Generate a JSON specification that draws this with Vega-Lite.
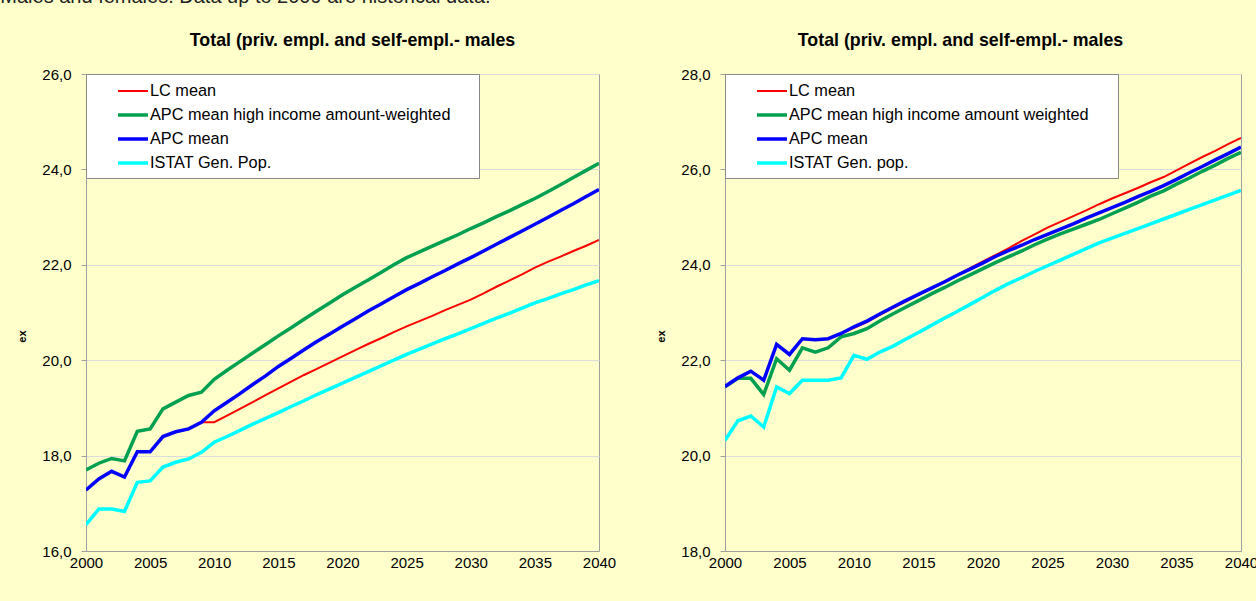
{
  "$schema": "https://vega.github.io/schema/vega-lite/v6.json",
  "background": "#FFFFCC",
  "padding": {"left": 0, "top": -14, "right": -3, "bottom": 34},
  "title": {"text": "Males and females. Data up to 2009 are historical data.", "anchor": "start", "frame": "bounds", "fontSize": 20, "fontWeight": "normal", "font": "Liberation Sans", "color": "#222222", "dx": -16, "offset": 25},
  "spacing": 38,
  "config": {
    "locale": {"number": {"decimal": ",", "thousands": ".", "grouping": [3], "currency": ["", " €"]}},
    "view": {"stroke": "#A0A0A0", "fill": "#FFFFCC"},
    "axis": {"labelFont": "Liberation Sans", "labelFontSize": 15, "labelColor": "#000000", "domainColor": "#A0A0A0", "tickColor": "#A0A0A0", "gridColor": "#DCDCDC", "titleFont": "Liberation Sans", "titleFontSize": 11, "titleFontWeight": "bold", "titleColor": "#000000"},
    "axisX": {"grid": false, "ticks": false, "labelPadding": 4, "labelFlush": false, "labelOverlap": false},
    "axisY": {"grid": true, "tickSize": 5, "labelPadding": 10, "titlePadding": 14, "labelFlush": false, "titleY": 262},
    "legend": {"orient": "top-left", "offset": 0, "fillColor": "#FFFFFF", "strokeColor": "#888888", "padding": 6, "symbolType": "M-1.5,0H1.5", "symbolSize": 400, "symbolOffset": 29, "symbolStrokeWidth": 3, "labelFontSize": 16.3, "labelFont": "Liberation Sans", "labelColor": "#000000", "labelOffset": 5, "rowPadding": 3, "labelLimit": 500, "titleOrient": "right", "titlePadding": 23},
    "title": {"font": "Liberation Sans", "fontSize": 17.8, "fontWeight": "bold", "color": "#000000", "anchor": "start", "offset": 17}
  },
  "datasets": {
    "left": [
      {"year": 2000, "series": "LC mean", "ex": 17.28}, {"year": 2001, "series": "LC mean", "ex": 17.51}, {"year": 2002, "series": "LC mean", "ex": 17.67}, {"year": 2003, "series": "LC mean", "ex": 17.55}, {"year": 2004, "series": "LC mean", "ex": 18.08}, {"year": 2005, "series": "LC mean", "ex": 18.08}, {"year": 2006, "series": "LC mean", "ex": 18.40}, {"year": 2007, "series": "LC mean", "ex": 18.50}, {"year": 2008, "series": "LC mean", "ex": 18.56}, {"year": 2009, "series": "LC mean", "ex": 18.70}, {"year": 2010, "series": "LC mean", "ex": 18.70}, {"year": 2011, "series": "LC mean", "ex": 18.84}, {"year": 2012, "series": "LC mean", "ex": 18.98}, {"year": 2013, "series": "LC mean", "ex": 19.12}, {"year": 2014, "series": "LC mean", "ex": 19.27}, {"year": 2015, "series": "LC mean", "ex": 19.41}, {"year": 2016, "series": "LC mean", "ex": 19.55}, {"year": 2017, "series": "LC mean", "ex": 19.69}, {"year": 2018, "series": "LC mean", "ex": 19.82}, {"year": 2019, "series": "LC mean", "ex": 19.95}, {"year": 2020, "series": "LC mean", "ex": 20.08}, {"year": 2021, "series": "LC mean", "ex": 20.21}, {"year": 2022, "series": "LC mean", "ex": 20.34}, {"year": 2023, "series": "LC mean", "ex": 20.46}, {"year": 2024, "series": "LC mean", "ex": 20.59}, {"year": 2025, "series": "LC mean", "ex": 20.71}, {"year": 2026, "series": "LC mean", "ex": 20.82}, {"year": 2027, "series": "LC mean", "ex": 20.93}, {"year": 2028, "series": "LC mean", "ex": 21.05}, {"year": 2029, "series": "LC mean", "ex": 21.16}, {"year": 2030, "series": "LC mean", "ex": 21.27}, {"year": 2031, "series": "LC mean", "ex": 21.40}, {"year": 2032, "series": "LC mean", "ex": 21.54}, {"year": 2033, "series": "LC mean", "ex": 21.67}, {"year": 2034, "series": "LC mean", "ex": 21.80}, {"year": 2035, "series": "LC mean", "ex": 21.94}, {"year": 2036, "series": "LC mean", "ex": 22.06}, {"year": 2037, "series": "LC mean", "ex": 22.17}, {"year": 2038, "series": "LC mean", "ex": 22.29}, {"year": 2039, "series": "LC mean", "ex": 22.40}, {"year": 2040, "series": "LC mean", "ex": 22.52},
      {"year": 2000, "series": "APC mean high income amount-weighted", "ex": 17.70}, {"year": 2001, "series": "APC mean high income amount-weighted", "ex": 17.84}, {"year": 2002, "series": "APC mean high income amount-weighted", "ex": 17.94}, {"year": 2003, "series": "APC mean high income amount-weighted", "ex": 17.89}, {"year": 2004, "series": "APC mean high income amount-weighted", "ex": 18.51}, {"year": 2005, "series": "APC mean high income amount-weighted", "ex": 18.56}, {"year": 2006, "series": "APC mean high income amount-weighted", "ex": 18.98}, {"year": 2007, "series": "APC mean high income amount-weighted", "ex": 19.12}, {"year": 2008, "series": "APC mean high income amount-weighted", "ex": 19.26}, {"year": 2009, "series": "APC mean high income amount-weighted", "ex": 19.33}, {"year": 2010, "series": "APC mean high income amount-weighted", "ex": 19.60}, {"year": 2011, "series": "APC mean high income amount-weighted", "ex": 19.79}, {"year": 2012, "series": "APC mean high income amount-weighted", "ex": 19.97}, {"year": 2013, "series": "APC mean high income amount-weighted", "ex": 20.15}, {"year": 2014, "series": "APC mean high income amount-weighted", "ex": 20.33}, {"year": 2015, "series": "APC mean high income amount-weighted", "ex": 20.51}, {"year": 2016, "series": "APC mean high income amount-weighted", "ex": 20.68}, {"year": 2017, "series": "APC mean high income amount-weighted", "ex": 20.86}, {"year": 2018, "series": "APC mean high income amount-weighted", "ex": 21.03}, {"year": 2019, "series": "APC mean high income amount-weighted", "ex": 21.20}, {"year": 2020, "series": "APC mean high income amount-weighted", "ex": 21.37}, {"year": 2021, "series": "APC mean high income amount-weighted", "ex": 21.53}, {"year": 2022, "series": "APC mean high income amount-weighted", "ex": 21.68}, {"year": 2023, "series": "APC mean high income amount-weighted", "ex": 21.84}, {"year": 2024, "series": "APC mean high income amount-weighted", "ex": 22.00}, {"year": 2025, "series": "APC mean high income amount-weighted", "ex": 22.15}, {"year": 2026, "series": "APC mean high income amount-weighted", "ex": 22.27}, {"year": 2027, "series": "APC mean high income amount-weighted", "ex": 22.39}, {"year": 2028, "series": "APC mean high income amount-weighted", "ex": 22.51}, {"year": 2029, "series": "APC mean high income amount-weighted", "ex": 22.63}, {"year": 2030, "series": "APC mean high income amount-weighted", "ex": 22.76}, {"year": 2031, "series": "APC mean high income amount-weighted", "ex": 22.88}, {"year": 2032, "series": "APC mean high income amount-weighted", "ex": 23.01}, {"year": 2033, "series": "APC mean high income amount-weighted", "ex": 23.13}, {"year": 2034, "series": "APC mean high income amount-weighted", "ex": 23.26}, {"year": 2035, "series": "APC mean high income amount-weighted", "ex": 23.39}, {"year": 2036, "series": "APC mean high income amount-weighted", "ex": 23.53}, {"year": 2037, "series": "APC mean high income amount-weighted", "ex": 23.68}, {"year": 2038, "series": "APC mean high income amount-weighted", "ex": 23.83}, {"year": 2039, "series": "APC mean high income amount-weighted", "ex": 23.98}, {"year": 2040, "series": "APC mean high income amount-weighted", "ex": 24.13},
      {"year": 2000, "series": "APC mean", "ex": 17.28}, {"year": 2001, "series": "APC mean", "ex": 17.51}, {"year": 2002, "series": "APC mean", "ex": 17.67}, {"year": 2003, "series": "APC mean", "ex": 17.55}, {"year": 2004, "series": "APC mean", "ex": 18.08}, {"year": 2005, "series": "APC mean", "ex": 18.08}, {"year": 2006, "series": "APC mean", "ex": 18.40}, {"year": 2007, "series": "APC mean", "ex": 18.50}, {"year": 2008, "series": "APC mean", "ex": 18.56}, {"year": 2009, "series": "APC mean", "ex": 18.70}, {"year": 2010, "series": "APC mean", "ex": 18.94}, {"year": 2011, "series": "APC mean", "ex": 19.12}, {"year": 2012, "series": "APC mean", "ex": 19.30}, {"year": 2013, "series": "APC mean", "ex": 19.49}, {"year": 2014, "series": "APC mean", "ex": 19.67}, {"year": 2015, "series": "APC mean", "ex": 19.87}, {"year": 2016, "series": "APC mean", "ex": 20.04}, {"year": 2017, "series": "APC mean", "ex": 20.22}, {"year": 2018, "series": "APC mean", "ex": 20.39}, {"year": 2019, "series": "APC mean", "ex": 20.55}, {"year": 2020, "series": "APC mean", "ex": 20.71}, {"year": 2021, "series": "APC mean", "ex": 20.87}, {"year": 2022, "series": "APC mean", "ex": 21.03}, {"year": 2023, "series": "APC mean", "ex": 21.18}, {"year": 2024, "series": "APC mean", "ex": 21.33}, {"year": 2025, "series": "APC mean", "ex": 21.48}, {"year": 2026, "series": "APC mean", "ex": 21.61}, {"year": 2027, "series": "APC mean", "ex": 21.75}, {"year": 2028, "series": "APC mean", "ex": 21.88}, {"year": 2029, "series": "APC mean", "ex": 22.02}, {"year": 2030, "series": "APC mean", "ex": 22.15}, {"year": 2031, "series": "APC mean", "ex": 22.29}, {"year": 2032, "series": "APC mean", "ex": 22.43}, {"year": 2033, "series": "APC mean", "ex": 22.57}, {"year": 2034, "series": "APC mean", "ex": 22.71}, {"year": 2035, "series": "APC mean", "ex": 22.85}, {"year": 2036, "series": "APC mean", "ex": 22.99}, {"year": 2037, "series": "APC mean", "ex": 23.14}, {"year": 2038, "series": "APC mean", "ex": 23.28}, {"year": 2039, "series": "APC mean", "ex": 23.43}, {"year": 2040, "series": "APC mean", "ex": 23.58},
      {"year": 2000, "series": "ISTAT Gen. Pop.", "ex": 16.55}, {"year": 2001, "series": "ISTAT Gen. Pop.", "ex": 16.88}, {"year": 2002, "series": "ISTAT Gen. Pop.", "ex": 16.88}, {"year": 2003, "series": "ISTAT Gen. Pop.", "ex": 16.83}, {"year": 2004, "series": "ISTAT Gen. Pop.", "ex": 17.44}, {"year": 2005, "series": "ISTAT Gen. Pop.", "ex": 17.47}, {"year": 2006, "series": "ISTAT Gen. Pop.", "ex": 17.76}, {"year": 2007, "series": "ISTAT Gen. Pop.", "ex": 17.86}, {"year": 2008, "series": "ISTAT Gen. Pop.", "ex": 17.93}, {"year": 2009, "series": "ISTAT Gen. Pop.", "ex": 18.07}, {"year": 2010, "series": "ISTAT Gen. Pop.", "ex": 18.28}, {"year": 2011, "series": "ISTAT Gen. Pop.", "ex": 18.40}, {"year": 2012, "series": "ISTAT Gen. Pop.", "ex": 18.53}, {"year": 2013, "series": "ISTAT Gen. Pop.", "ex": 18.66}, {"year": 2014, "series": "ISTAT Gen. Pop.", "ex": 18.78}, {"year": 2015, "series": "ISTAT Gen. Pop.", "ex": 18.90}, {"year": 2016, "series": "ISTAT Gen. Pop.", "ex": 19.03}, {"year": 2017, "series": "ISTAT Gen. Pop.", "ex": 19.15}, {"year": 2018, "series": "ISTAT Gen. Pop.", "ex": 19.28}, {"year": 2019, "series": "ISTAT Gen. Pop.", "ex": 19.40}, {"year": 2020, "series": "ISTAT Gen. Pop.", "ex": 19.52}, {"year": 2021, "series": "ISTAT Gen. Pop.", "ex": 19.64}, {"year": 2022, "series": "ISTAT Gen. Pop.", "ex": 19.76}, {"year": 2023, "series": "ISTAT Gen. Pop.", "ex": 19.88}, {"year": 2024, "series": "ISTAT Gen. Pop.", "ex": 20.00}, {"year": 2025, "series": "ISTAT Gen. Pop.", "ex": 20.12}, {"year": 2026, "series": "ISTAT Gen. Pop.", "ex": 20.23}, {"year": 2027, "series": "ISTAT Gen. Pop.", "ex": 20.34}, {"year": 2028, "series": "ISTAT Gen. Pop.", "ex": 20.45}, {"year": 2029, "series": "ISTAT Gen. Pop.", "ex": 20.55}, {"year": 2030, "series": "ISTAT Gen. Pop.", "ex": 20.66}, {"year": 2031, "series": "ISTAT Gen. Pop.", "ex": 20.77}, {"year": 2032, "series": "ISTAT Gen. Pop.", "ex": 20.88}, {"year": 2033, "series": "ISTAT Gen. Pop.", "ex": 20.98}, {"year": 2034, "series": "ISTAT Gen. Pop.", "ex": 21.09}, {"year": 2035, "series": "ISTAT Gen. Pop.", "ex": 21.20}, {"year": 2036, "series": "ISTAT Gen. Pop.", "ex": 21.29}, {"year": 2037, "series": "ISTAT Gen. Pop.", "ex": 21.39}, {"year": 2038, "series": "ISTAT Gen. Pop.", "ex": 21.48}, {"year": 2039, "series": "ISTAT Gen. Pop.", "ex": 21.58}, {"year": 2040, "series": "ISTAT Gen. Pop.", "ex": 21.67}
    ],
    "right": [
      {"year": 2000, "series": "LC mean", "ex": 21.45}, {"year": 2001, "series": "LC mean", "ex": 21.63}, {"year": 2002, "series": "LC mean", "ex": 21.77}, {"year": 2003, "series": "LC mean", "ex": 21.58}, {"year": 2004, "series": "LC mean", "ex": 22.33}, {"year": 2005, "series": "LC mean", "ex": 22.12}, {"year": 2006, "series": "LC mean", "ex": 22.45}, {"year": 2007, "series": "LC mean", "ex": 22.43}, {"year": 2008, "series": "LC mean", "ex": 22.45}, {"year": 2009, "series": "LC mean", "ex": 22.56}, {"year": 2010, "series": "LC mean", "ex": 22.68}, {"year": 2011, "series": "LC mean", "ex": 22.80}, {"year": 2012, "series": "LC mean", "ex": 22.95}, {"year": 2013, "series": "LC mean", "ex": 23.09}, {"year": 2014, "series": "LC mean", "ex": 23.23}, {"year": 2015, "series": "LC mean", "ex": 23.37}, {"year": 2016, "series": "LC mean", "ex": 23.51}, {"year": 2017, "series": "LC mean", "ex": 23.65}, {"year": 2018, "series": "LC mean", "ex": 23.79}, {"year": 2019, "series": "LC mean", "ex": 23.93}, {"year": 2020, "series": "LC mean", "ex": 24.07}, {"year": 2021, "series": "LC mean", "ex": 24.21}, {"year": 2022, "series": "LC mean", "ex": 24.35}, {"year": 2023, "series": "LC mean", "ex": 24.50}, {"year": 2024, "series": "LC mean", "ex": 24.64}, {"year": 2025, "series": "LC mean", "ex": 24.78}, {"year": 2026, "series": "LC mean", "ex": 24.90}, {"year": 2027, "series": "LC mean", "ex": 25.02}, {"year": 2028, "series": "LC mean", "ex": 25.14}, {"year": 2029, "series": "LC mean", "ex": 25.27}, {"year": 2030, "series": "LC mean", "ex": 25.39}, {"year": 2031, "series": "LC mean", "ex": 25.50}, {"year": 2032, "series": "LC mean", "ex": 25.61}, {"year": 2033, "series": "LC mean", "ex": 25.73}, {"year": 2034, "series": "LC mean", "ex": 25.84}, {"year": 2035, "series": "LC mean", "ex": 25.98}, {"year": 2036, "series": "LC mean", "ex": 26.12}, {"year": 2037, "series": "LC mean", "ex": 26.26}, {"year": 2038, "series": "LC mean", "ex": 26.39}, {"year": 2039, "series": "LC mean", "ex": 26.53}, {"year": 2040, "series": "LC mean", "ex": 26.66},
      {"year": 2000, "series": "APC mean high income amount weighted", "ex": 21.44}, {"year": 2001, "series": "APC mean high income amount weighted", "ex": 21.62}, {"year": 2002, "series": "APC mean high income amount weighted", "ex": 21.62}, {"year": 2003, "series": "APC mean high income amount weighted", "ex": 21.28}, {"year": 2004, "series": "APC mean high income amount weighted", "ex": 22.03}, {"year": 2005, "series": "APC mean high income amount weighted", "ex": 21.79}, {"year": 2006, "series": "APC mean high income amount weighted", "ex": 22.26}, {"year": 2007, "series": "APC mean high income amount weighted", "ex": 22.17}, {"year": 2008, "series": "APC mean high income amount weighted", "ex": 22.26}, {"year": 2009, "series": "APC mean high income amount weighted", "ex": 22.49}, {"year": 2010, "series": "APC mean high income amount weighted", "ex": 22.56}, {"year": 2011, "series": "APC mean high income amount weighted", "ex": 22.66}, {"year": 2012, "series": "APC mean high income amount weighted", "ex": 22.82}, {"year": 2013, "series": "APC mean high income amount weighted", "ex": 22.97}, {"year": 2014, "series": "APC mean high income amount weighted", "ex": 23.11}, {"year": 2015, "series": "APC mean high income amount weighted", "ex": 23.25}, {"year": 2016, "series": "APC mean high income amount weighted", "ex": 23.39}, {"year": 2017, "series": "APC mean high income amount weighted", "ex": 23.52}, {"year": 2018, "series": "APC mean high income amount weighted", "ex": 23.66}, {"year": 2019, "series": "APC mean high income amount weighted", "ex": 23.79}, {"year": 2020, "series": "APC mean high income amount weighted", "ex": 23.92}, {"year": 2021, "series": "APC mean high income amount weighted", "ex": 24.05}, {"year": 2022, "series": "APC mean high income amount weighted", "ex": 24.17}, {"year": 2023, "series": "APC mean high income amount weighted", "ex": 24.29}, {"year": 2024, "series": "APC mean high income amount weighted", "ex": 24.42}, {"year": 2025, "series": "APC mean high income amount weighted", "ex": 24.54}, {"year": 2026, "series": "APC mean high income amount weighted", "ex": 24.65}, {"year": 2027, "series": "APC mean high income amount weighted", "ex": 24.75}, {"year": 2028, "series": "APC mean high income amount weighted", "ex": 24.85}, {"year": 2029, "series": "APC mean high income amount weighted", "ex": 24.95}, {"year": 2030, "series": "APC mean high income amount weighted", "ex": 25.07}, {"year": 2031, "series": "APC mean high income amount weighted", "ex": 25.19}, {"year": 2032, "series": "APC mean high income amount weighted", "ex": 25.31}, {"year": 2033, "series": "APC mean high income amount weighted", "ex": 25.44}, {"year": 2034, "series": "APC mean high income amount weighted", "ex": 25.55}, {"year": 2035, "series": "APC mean high income amount weighted", "ex": 25.69}, {"year": 2036, "series": "APC mean high income amount weighted", "ex": 25.82}, {"year": 2037, "series": "APC mean high income amount weighted", "ex": 25.96}, {"year": 2038, "series": "APC mean high income amount weighted", "ex": 26.09}, {"year": 2039, "series": "APC mean high income amount weighted", "ex": 26.23}, {"year": 2040, "series": "APC mean high income amount weighted", "ex": 26.36},
      {"year": 2000, "series": "APC mean", "ex": 21.45}, {"year": 2001, "series": "APC mean", "ex": 21.63}, {"year": 2002, "series": "APC mean", "ex": 21.77}, {"year": 2003, "series": "APC mean", "ex": 21.58}, {"year": 2004, "series": "APC mean", "ex": 22.33}, {"year": 2005, "series": "APC mean", "ex": 22.12}, {"year": 2006, "series": "APC mean", "ex": 22.45}, {"year": 2007, "series": "APC mean", "ex": 22.43}, {"year": 2008, "series": "APC mean", "ex": 22.45}, {"year": 2009, "series": "APC mean", "ex": 22.56}, {"year": 2010, "series": "APC mean", "ex": 22.70}, {"year": 2011, "series": "APC mean", "ex": 22.82}, {"year": 2012, "series": "APC mean", "ex": 22.97}, {"year": 2013, "series": "APC mean", "ex": 23.11}, {"year": 2014, "series": "APC mean", "ex": 23.25}, {"year": 2015, "series": "APC mean", "ex": 23.38}, {"year": 2016, "series": "APC mean", "ex": 23.51}, {"year": 2017, "series": "APC mean", "ex": 23.64}, {"year": 2018, "series": "APC mean", "ex": 23.78}, {"year": 2019, "series": "APC mean", "ex": 23.91}, {"year": 2020, "series": "APC mean", "ex": 24.04}, {"year": 2021, "series": "APC mean", "ex": 24.18}, {"year": 2022, "series": "APC mean", "ex": 24.30}, {"year": 2023, "series": "APC mean", "ex": 24.41}, {"year": 2024, "series": "APC mean", "ex": 24.53}, {"year": 2025, "series": "APC mean", "ex": 24.64}, {"year": 2026, "series": "APC mean", "ex": 24.75}, {"year": 2027, "series": "APC mean", "ex": 24.86}, {"year": 2028, "series": "APC mean", "ex": 24.98}, {"year": 2029, "series": "APC mean", "ex": 25.09}, {"year": 2030, "series": "APC mean", "ex": 25.20}, {"year": 2031, "series": "APC mean", "ex": 25.31}, {"year": 2032, "series": "APC mean", "ex": 25.43}, {"year": 2033, "series": "APC mean", "ex": 25.54}, {"year": 2034, "series": "APC mean", "ex": 25.66}, {"year": 2035, "series": "APC mean", "ex": 25.79}, {"year": 2036, "series": "APC mean", "ex": 25.93}, {"year": 2037, "series": "APC mean", "ex": 26.06}, {"year": 2038, "series": "APC mean", "ex": 26.20}, {"year": 2039, "series": "APC mean", "ex": 26.33}, {"year": 2040, "series": "APC mean", "ex": 26.47},
      {"year": 2000, "series": "ISTAT Gen. pop.", "ex": 20.32}, {"year": 2001, "series": "ISTAT Gen. pop.", "ex": 20.73}, {"year": 2002, "series": "ISTAT Gen. pop.", "ex": 20.83}, {"year": 2003, "series": "ISTAT Gen. pop.", "ex": 20.60}, {"year": 2004, "series": "ISTAT Gen. pop.", "ex": 21.44}, {"year": 2005, "series": "ISTAT Gen. pop.", "ex": 21.30}, {"year": 2006, "series": "ISTAT Gen. pop.", "ex": 21.58}, {"year": 2007, "series": "ISTAT Gen. pop.", "ex": 21.58}, {"year": 2008, "series": "ISTAT Gen. pop.", "ex": 21.58}, {"year": 2009, "series": "ISTAT Gen. pop.", "ex": 21.63}, {"year": 2010, "series": "ISTAT Gen. pop.", "ex": 22.10}, {"year": 2011, "series": "ISTAT Gen. pop.", "ex": 22.02}, {"year": 2012, "series": "ISTAT Gen. pop.", "ex": 22.17}, {"year": 2013, "series": "ISTAT Gen. pop.", "ex": 22.29}, {"year": 2014, "series": "ISTAT Gen. pop.", "ex": 22.44}, {"year": 2015, "series": "ISTAT Gen. pop.", "ex": 22.58}, {"year": 2016, "series": "ISTAT Gen. pop.", "ex": 22.73}, {"year": 2017, "series": "ISTAT Gen. pop.", "ex": 22.88}, {"year": 2018, "series": "ISTAT Gen. pop.", "ex": 23.02}, {"year": 2019, "series": "ISTAT Gen. pop.", "ex": 23.17}, {"year": 2020, "series": "ISTAT Gen. pop.", "ex": 23.32}, {"year": 2021, "series": "ISTAT Gen. pop.", "ex": 23.47}, {"year": 2022, "series": "ISTAT Gen. pop.", "ex": 23.61}, {"year": 2023, "series": "ISTAT Gen. pop.", "ex": 23.73}, {"year": 2024, "series": "ISTAT Gen. pop.", "ex": 23.86}, {"year": 2025, "series": "ISTAT Gen. pop.", "ex": 23.98}, {"year": 2026, "series": "ISTAT Gen. pop.", "ex": 24.10}, {"year": 2027, "series": "ISTAT Gen. pop.", "ex": 24.22}, {"year": 2028, "series": "ISTAT Gen. pop.", "ex": 24.34}, {"year": 2029, "series": "ISTAT Gen. pop.", "ex": 24.46}, {"year": 2030, "series": "ISTAT Gen. pop.", "ex": 24.56}, {"year": 2031, "series": "ISTAT Gen. pop.", "ex": 24.66}, {"year": 2032, "series": "ISTAT Gen. pop.", "ex": 24.76}, {"year": 2033, "series": "ISTAT Gen. pop.", "ex": 24.86}, {"year": 2034, "series": "ISTAT Gen. pop.", "ex": 24.96}, {"year": 2035, "series": "ISTAT Gen. pop.", "ex": 25.06}, {"year": 2036, "series": "ISTAT Gen. pop.", "ex": 25.16}, {"year": 2037, "series": "ISTAT Gen. pop.", "ex": 25.26}, {"year": 2038, "series": "ISTAT Gen. pop.", "ex": 25.36}, {"year": 2039, "series": "ISTAT Gen. pop.", "ex": 25.46}, {"year": 2040, "series": "ISTAT Gen. pop.", "ex": 25.56}
    ]
  },
  "hconcat": [
    {
      "data": {"name": "left"},
      "width": 513,
      "height": 477,
      "title": {"text": "Total (priv. empl. and self-empl.- males", "dx": 173},
      "mark": {"type": "line", "clip": true},
      "encoding": {
        "x": {"field": "year", "type": "quantitative", "scale": {"domain": [2000, 2040], "nice": false, "zero": false}, "axis": {"values": [2000, 2005, 2010, 2015, 2020, 2025, 2030, 2035, 2040], "format": "d", "title": null}},
        "y": {"field": "ex", "type": "quantitative", "scale": {"domain": [16, 26], "nice": false, "zero": false}, "axis": {"values": [16, 18, 20, 22, 24, 26], "format": ".1f", "title": "ex"}},
        "color": {"field": "series", "type": "nominal", "scale": {"domain": ["LC mean", "APC mean high income amount-weighted", "APC mean", "ISTAT Gen. Pop."], "range": ["#FF0000", "#00A050", "#0000FF", "#00FFFF"]}, "legend": {"title": "\u00a0"}},
        "strokeWidth": {"field": "series", "type": "nominal", "scale": {"type": "ordinal", "domain": ["LC mean", "APC mean high income amount-weighted", "APC mean", "ISTAT Gen. Pop."], "range": [2, 3.5, 3.5, 3.5]}, "legend": null}
      }
    },
    {
      "data": {"name": "right"},
      "width": 516,
      "height": 477,
      "title": {"text": "Total (priv. empl. and self-empl.- males", "dx": 142},
      "mark": {"type": "line", "clip": true},
      "encoding": {
        "x": {"field": "year", "type": "quantitative", "scale": {"domain": [2000, 2040], "nice": false, "zero": false}, "axis": {"values": [2000, 2005, 2010, 2015, 2020, 2025, 2030, 2035, 2040], "format": "d", "title": null}},
        "y": {"field": "ex", "type": "quantitative", "scale": {"domain": [18, 28], "nice": false, "zero": false}, "axis": {"values": [18, 20, 22, 24, 26, 28], "format": ".1f", "title": "ex"}},
        "color": {"field": "series", "type": "nominal", "scale": {"domain": ["LC mean", "APC mean high income amount weighted", "APC mean", "ISTAT Gen. pop."], "range": ["#FF0000", "#00A050", "#0000FF", "#00FFFF"]}, "legend": {"title": "\u00a0"}},
        "strokeWidth": {"field": "series", "type": "nominal", "scale": {"type": "ordinal", "domain": ["LC mean", "APC mean high income amount weighted", "APC mean", "ISTAT Gen. pop."], "range": [2, 3.5, 3.5, 3.5]}, "legend": null}
      }
    }
  ],
  "resolve": {"scale": {"color": "independent", "strokeWidth": "independent", "x": "independent", "y": "independent"}, "legend": {"color": "independent"}}
}
